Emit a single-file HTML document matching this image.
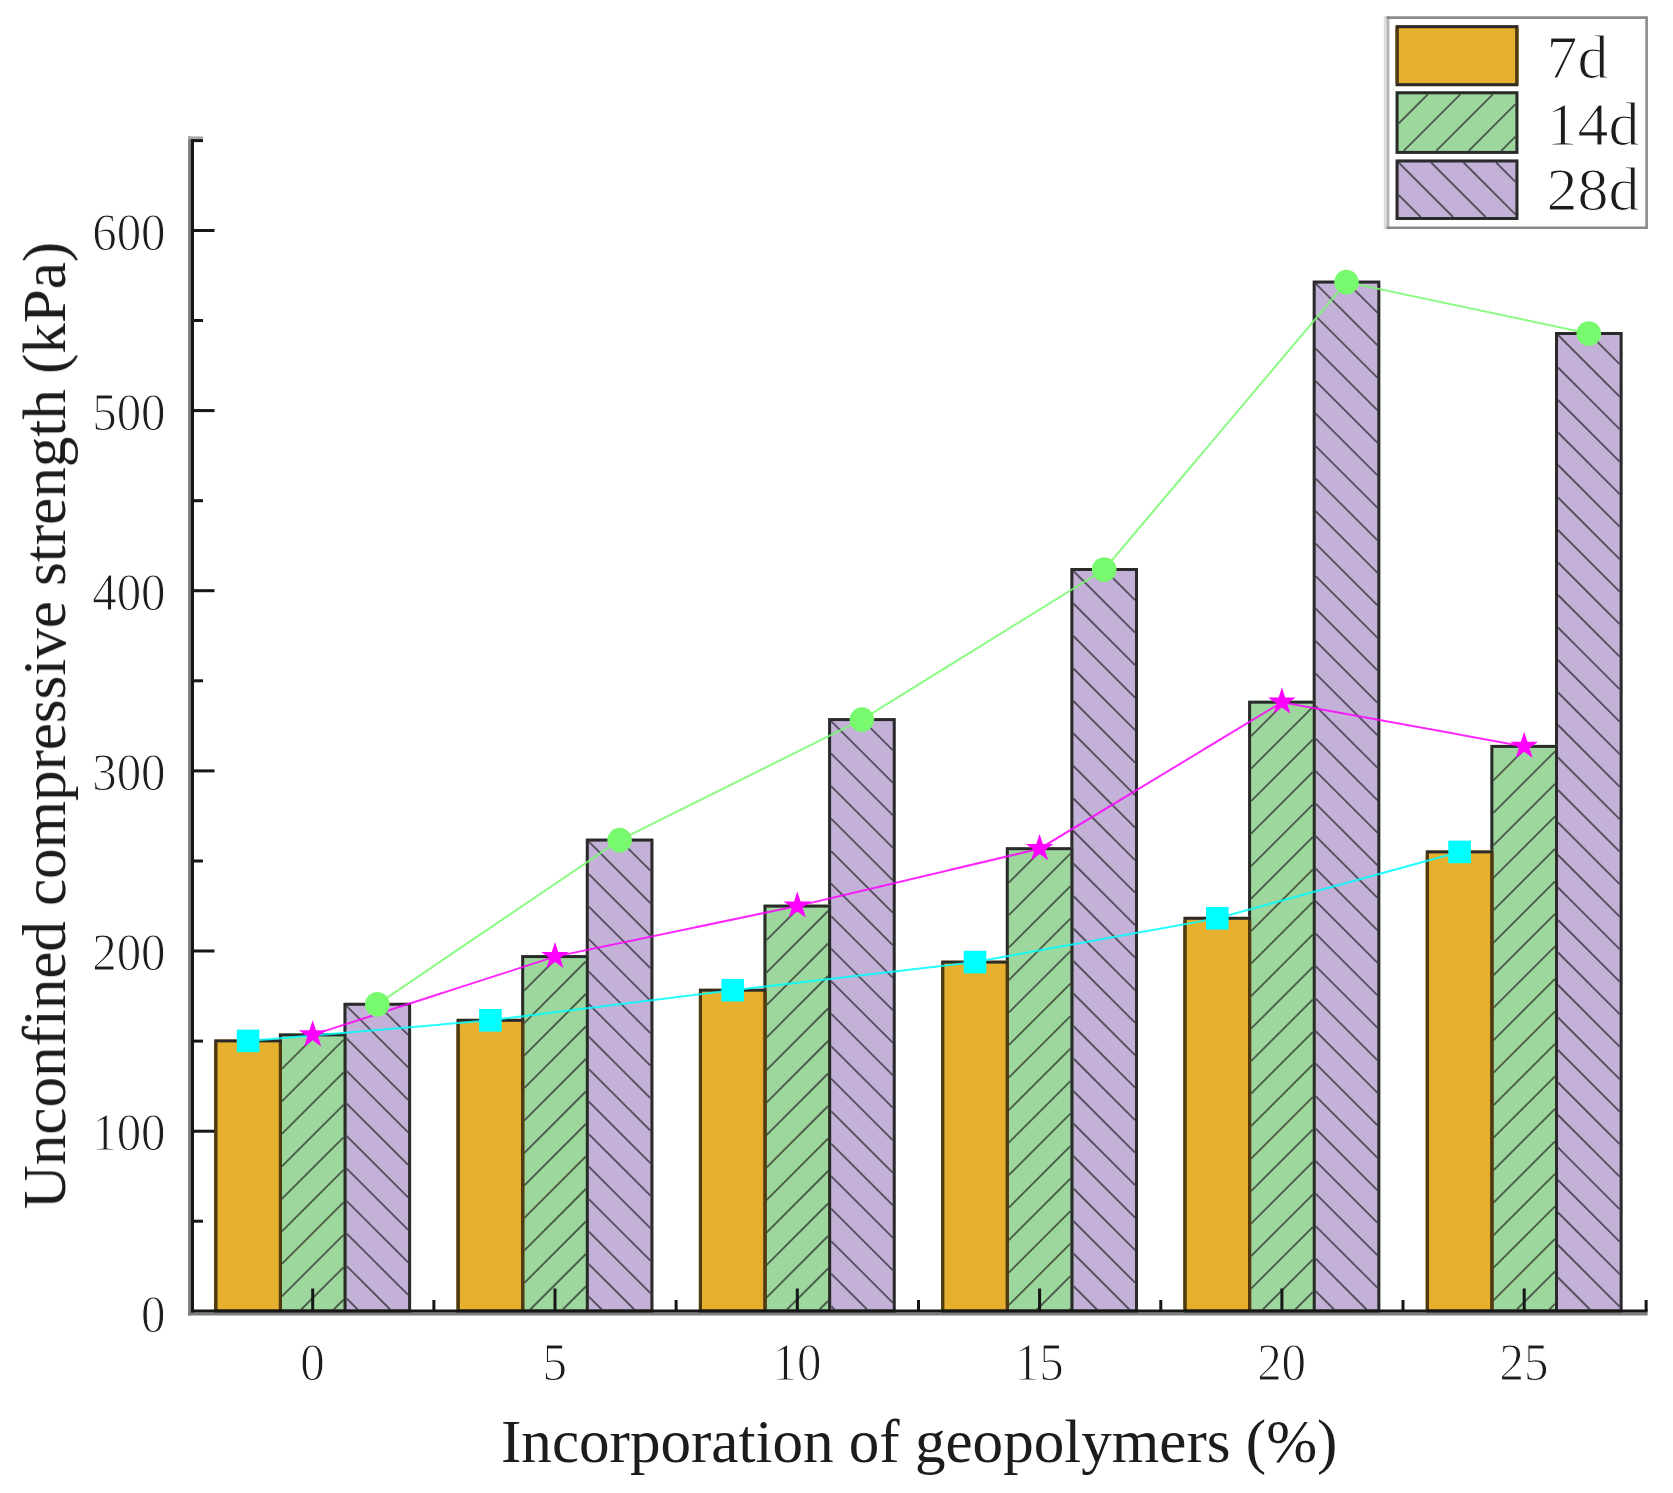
<!DOCTYPE html>
<html lang="en"><head><meta charset="utf-8"><title>Unconfined compressive strength</title>
<style>html,body{margin:0;padding:0;background:#fff}body{width:1673px;height:1493px;overflow:hidden}svg{display:block}text{font-family:"Liberation Serif",serif;fill:#1a1a1a;font-variant-ligatures:none;font-kerning:none}</style></head><body>
<svg width="1673" height="1493" viewBox="0 0 1673 1493">
<defs><filter id="soft" x="-2%" y="-2%" width="104%" height="104%"><feGaussianBlur stdDeviation="0.7"/></filter></defs>
<rect width="1673" height="1493" fill="#fff"/>
<g filter="url(#soft)">
<g id="bars">
<rect x="343.5" y="1002.8" width="67.6" height="309.8" fill="#C3B1D7"/>
<g stroke="#1e1e1e" stroke-opacity="0.66" stroke-width="1.9" fill="none"><path d="M346.5,1298.3 L357.8,1309.5"/><path d="M346.5,1265.8 L390.2,1309.5"/><path d="M346.5,1233.3 L408.1,1294.9"/><path d="M346.5,1200.8 L408.1,1262.4"/><path d="M346.5,1168.3 L408.1,1229.9"/><path d="M346.5,1135.8 L408.1,1197.4"/><path d="M346.5,1103.3 L408.1,1164.9"/><path d="M346.5,1070.8 L408.1,1132.4"/><path d="M346.5,1038.3 L408.1,1099.9"/><path d="M346.5,1005.8 L408.1,1067.4"/><path d="M379.0,1005.8 L408.1,1034.9"/></g>
<rect x="345.00" y="1004.30" width="64.60" height="306.75" fill="none" stroke="#2b2b2b" stroke-width="3.0"/>
<rect x="278.9" y="1033.4" width="67.6" height="279.2" fill="#9DD79D"/>
<g stroke="#1e1e1e" stroke-opacity="0.66" stroke-width="1.9" fill="none"><path d="M281.9,1068.9 L314.4,1036.4"/><path d="M281.9,1101.4 L343.5,1039.8"/><path d="M281.9,1133.9 L343.5,1072.3"/><path d="M281.9,1166.4 L343.5,1104.8"/><path d="M281.9,1198.9 L343.5,1137.3"/><path d="M281.9,1231.4 L343.5,1169.8"/><path d="M281.9,1263.9 L343.5,1202.3"/><path d="M281.9,1296.4 L343.5,1234.8"/><path d="M301.2,1309.5 L343.5,1267.3"/><path d="M333.7,1309.5 L343.5,1299.8"/></g>
<rect x="280.40" y="1034.90" width="64.60" height="276.15" fill="none" stroke="#2b2b2b" stroke-width="3.0"/>
<rect x="214.3" y="1039.4" width="67.6" height="273.2" fill="#E6AF2E"/>
<rect x="215.80" y="1040.90" width="64.60" height="270.15" fill="none" stroke="#2b2b2b" stroke-width="3.0"/>
<path d="M215.80,1042.40 V1309.55 M280.40,1042.40 V1309.55" fill="none" stroke="#503a0e" stroke-width="3.0"/>
<rect x="585.8" y="838.6" width="67.6" height="474.0" fill="#C3B1D7"/>
<g stroke="#1e1e1e" stroke-opacity="0.66" stroke-width="1.9" fill="none"><path d="M588.8,1296.6 L601.8,1309.5"/><path d="M588.8,1264.1 L634.3,1309.5"/><path d="M588.8,1231.6 L650.4,1293.2"/><path d="M588.8,1199.1 L650.4,1260.7"/><path d="M588.8,1166.6 L650.4,1228.2"/><path d="M588.8,1134.1 L650.4,1195.7"/><path d="M588.8,1101.6 L650.4,1163.2"/><path d="M588.8,1069.1 L650.4,1130.7"/><path d="M588.8,1036.6 L650.4,1098.2"/><path d="M588.8,1004.1 L650.4,1065.7"/><path d="M588.8,971.6 L650.4,1033.2"/><path d="M588.8,939.1 L650.4,1000.7"/><path d="M588.8,906.6 L650.4,968.2"/><path d="M588.8,874.1 L650.4,935.7"/><path d="M588.8,841.6 L650.4,903.2"/><path d="M621.3,841.6 L650.4,870.7"/></g>
<rect x="587.30" y="840.10" width="64.60" height="470.95" fill="none" stroke="#2b2b2b" stroke-width="3.0"/>
<rect x="521.2" y="955.1" width="67.6" height="357.5" fill="#9DD79D"/>
<g stroke="#1e1e1e" stroke-opacity="0.66" stroke-width="1.9" fill="none"><path d="M524.2,990.6 L556.7,958.1"/><path d="M524.2,1023.1 L585.8,961.5"/><path d="M524.2,1055.6 L585.8,994.0"/><path d="M524.2,1088.1 L585.8,1026.5"/><path d="M524.2,1120.6 L585.8,1059.0"/><path d="M524.2,1153.1 L585.8,1091.5"/><path d="M524.2,1185.6 L585.8,1124.0"/><path d="M524.2,1218.1 L585.8,1156.5"/><path d="M524.2,1250.6 L585.8,1189.0"/><path d="M524.2,1283.1 L585.8,1221.5"/><path d="M530.2,1309.5 L585.8,1254.0"/><path d="M562.8,1309.5 L585.8,1286.5"/></g>
<rect x="522.70" y="956.60" width="64.60" height="354.45" fill="none" stroke="#2b2b2b" stroke-width="3.0"/>
<rect x="456.6" y="1018.8" width="67.6" height="293.8" fill="#E6AF2E"/>
<rect x="458.10" y="1020.30" width="64.60" height="290.75" fill="none" stroke="#2b2b2b" stroke-width="3.0"/>
<path d="M458.10,1021.80 V1309.55 M522.70,1021.80 V1309.55" fill="none" stroke="#503a0e" stroke-width="3.0"/>
<rect x="828.1" y="718.1" width="67.6" height="594.5" fill="#C3B1D7"/>
<g stroke="#1e1e1e" stroke-opacity="0.66" stroke-width="1.9" fill="none"><path d="M831.1,1306.1 L834.6,1309.5"/><path d="M831.1,1273.6 L867.1,1309.5"/><path d="M831.1,1241.1 L892.7,1302.7"/><path d="M831.1,1208.6 L892.7,1270.2"/><path d="M831.1,1176.1 L892.7,1237.7"/><path d="M831.1,1143.6 L892.7,1205.2"/><path d="M831.1,1111.1 L892.7,1172.7"/><path d="M831.1,1078.6 L892.7,1140.2"/><path d="M831.1,1046.1 L892.7,1107.7"/><path d="M831.1,1013.6 L892.7,1075.2"/><path d="M831.1,981.1 L892.7,1042.7"/><path d="M831.1,948.6 L892.7,1010.2"/><path d="M831.1,916.1 L892.7,977.7"/><path d="M831.1,883.6 L892.7,945.2"/><path d="M831.1,851.1 L892.7,912.7"/><path d="M831.1,818.6 L892.7,880.2"/><path d="M831.1,786.1 L892.7,847.7"/><path d="M831.1,753.6 L892.7,815.2"/><path d="M831.1,721.1 L892.7,782.7"/><path d="M863.6,721.1 L892.7,750.2"/></g>
<rect x="829.60" y="719.60" width="64.60" height="591.45" fill="none" stroke="#2b2b2b" stroke-width="3.0"/>
<rect x="763.5" y="904.6" width="67.6" height="408.0" fill="#9DD79D"/>
<g stroke="#1e1e1e" stroke-opacity="0.66" stroke-width="1.9" fill="none"><path d="M766.5,940.1 L799.0,907.6"/><path d="M766.5,972.6 L828.1,911.0"/><path d="M766.5,1005.1 L828.1,943.5"/><path d="M766.5,1037.6 L828.1,976.0"/><path d="M766.5,1070.1 L828.1,1008.5"/><path d="M766.5,1102.6 L828.1,1041.0"/><path d="M766.5,1135.1 L828.1,1073.5"/><path d="M766.5,1167.6 L828.1,1106.0"/><path d="M766.5,1200.1 L828.1,1138.5"/><path d="M766.5,1232.6 L828.1,1171.0"/><path d="M766.5,1265.1 L828.1,1203.5"/><path d="M766.5,1297.6 L828.1,1236.0"/><path d="M787.0,1309.5 L828.1,1268.5"/><path d="M819.5,1309.5 L828.1,1301.0"/></g>
<rect x="765.00" y="906.10" width="64.60" height="404.95" fill="none" stroke="#2b2b2b" stroke-width="3.0"/>
<rect x="698.9" y="988.7" width="67.6" height="323.9" fill="#E6AF2E"/>
<rect x="700.40" y="990.20" width="64.60" height="320.85" fill="none" stroke="#2b2b2b" stroke-width="3.0"/>
<path d="M700.40,991.70 V1309.55 M765.00,991.70 V1309.55" fill="none" stroke="#503a0e" stroke-width="3.0"/>
<rect x="1070.4" y="568.0" width="67.6" height="744.5" fill="#C3B1D7"/>
<g stroke="#1e1e1e" stroke-opacity="0.66" stroke-width="1.9" fill="none"><path d="M1073.4,1286.0 L1096.9,1309.5"/><path d="M1073.4,1253.5 L1129.4,1309.5"/><path d="M1073.4,1221.0 L1135.0,1282.6"/><path d="M1073.4,1188.5 L1135.0,1250.1"/><path d="M1073.4,1156.0 L1135.0,1217.6"/><path d="M1073.4,1123.5 L1135.0,1185.1"/><path d="M1073.4,1091.0 L1135.0,1152.6"/><path d="M1073.4,1058.5 L1135.0,1120.1"/><path d="M1073.4,1026.0 L1135.0,1087.6"/><path d="M1073.4,993.5 L1135.0,1055.1"/><path d="M1073.4,961.0 L1135.0,1022.6"/><path d="M1073.4,928.5 L1135.0,990.1"/><path d="M1073.4,896.0 L1135.0,957.6"/><path d="M1073.4,863.5 L1135.0,925.1"/><path d="M1073.4,831.0 L1135.0,892.6"/><path d="M1073.4,798.5 L1135.0,860.1"/><path d="M1073.4,766.0 L1135.0,827.6"/><path d="M1073.4,733.5 L1135.0,795.1"/><path d="M1073.4,701.0 L1135.0,762.6"/><path d="M1073.4,668.5 L1135.0,730.1"/><path d="M1073.4,636.0 L1135.0,697.6"/><path d="M1073.4,603.5 L1135.0,665.1"/><path d="M1073.4,571.0 L1135.0,632.6"/><path d="M1105.9,571.0 L1135.0,600.1"/></g>
<rect x="1071.90" y="569.50" width="64.60" height="741.55" fill="none" stroke="#2b2b2b" stroke-width="3.0"/>
<rect x="1005.8" y="847.2" width="67.6" height="465.4" fill="#9DD79D"/>
<g stroke="#1e1e1e" stroke-opacity="0.66" stroke-width="1.9" fill="none"><path d="M1008.8,882.7 L1041.3,850.2"/><path d="M1008.8,915.2 L1070.4,853.6"/><path d="M1008.8,947.7 L1070.4,886.1"/><path d="M1008.8,980.2 L1070.4,918.6"/><path d="M1008.8,1012.7 L1070.4,951.1"/><path d="M1008.8,1045.2 L1070.4,983.6"/><path d="M1008.8,1077.7 L1070.4,1016.1"/><path d="M1008.8,1110.2 L1070.4,1048.6"/><path d="M1008.8,1142.7 L1070.4,1081.1"/><path d="M1008.8,1175.2 L1070.4,1113.6"/><path d="M1008.8,1207.7 L1070.4,1146.1"/><path d="M1008.8,1240.2 L1070.4,1178.6"/><path d="M1008.8,1272.7 L1070.4,1211.1"/><path d="M1008.8,1305.2 L1070.4,1243.6"/><path d="M1037.0,1309.5 L1070.4,1276.1"/><path d="M1069.5,1309.5 L1070.4,1308.6"/></g>
<rect x="1007.30" y="848.70" width="64.60" height="462.35" fill="none" stroke="#2b2b2b" stroke-width="3.0"/>
<rect x="941.2" y="960.6" width="67.6" height="352.0" fill="#E6AF2E"/>
<rect x="942.70" y="962.10" width="64.60" height="348.95" fill="none" stroke="#2b2b2b" stroke-width="3.0"/>
<path d="M942.70,963.60 V1309.55 M1007.30,963.60 V1309.55" fill="none" stroke="#503a0e" stroke-width="3.0"/>
<rect x="1312.7" y="280.6" width="67.6" height="1031.9" fill="#C3B1D7"/>
<g stroke="#1e1e1e" stroke-opacity="0.66" stroke-width="1.9" fill="none"><path d="M1315.7,1291.1 L1334.1,1309.5"/><path d="M1315.7,1258.6 L1366.6,1309.5"/><path d="M1315.7,1226.1 L1377.3,1287.7"/><path d="M1315.7,1193.6 L1377.3,1255.2"/><path d="M1315.7,1161.1 L1377.3,1222.7"/><path d="M1315.7,1128.6 L1377.3,1190.2"/><path d="M1315.7,1096.1 L1377.3,1157.7"/><path d="M1315.7,1063.6 L1377.3,1125.2"/><path d="M1315.7,1031.1 L1377.3,1092.7"/><path d="M1315.7,998.6 L1377.3,1060.2"/><path d="M1315.7,966.1 L1377.3,1027.7"/><path d="M1315.7,933.6 L1377.3,995.2"/><path d="M1315.7,901.1 L1377.3,962.7"/><path d="M1315.7,868.6 L1377.3,930.2"/><path d="M1315.7,836.1 L1377.3,897.7"/><path d="M1315.7,803.6 L1377.3,865.2"/><path d="M1315.7,771.1 L1377.3,832.7"/><path d="M1315.7,738.6 L1377.3,800.2"/><path d="M1315.7,706.1 L1377.3,767.7"/><path d="M1315.7,673.6 L1377.3,735.2"/><path d="M1315.7,641.1 L1377.3,702.7"/><path d="M1315.7,608.6 L1377.3,670.2"/><path d="M1315.7,576.1 L1377.3,637.7"/><path d="M1315.7,543.6 L1377.3,605.2"/><path d="M1315.7,511.1 L1377.3,572.7"/><path d="M1315.7,478.6 L1377.3,540.2"/><path d="M1315.7,446.1 L1377.3,507.7"/><path d="M1315.7,413.6 L1377.3,475.2"/><path d="M1315.7,381.1 L1377.3,442.7"/><path d="M1315.7,348.6 L1377.3,410.2"/><path d="M1315.7,316.1 L1377.3,377.7"/><path d="M1315.7,283.6 L1377.3,345.2"/><path d="M1348.2,283.6 L1377.3,312.7"/></g>
<rect x="1314.20" y="282.10" width="64.60" height="1028.95" fill="none" stroke="#2b2b2b" stroke-width="3.0"/>
<rect x="1248.1" y="700.7" width="67.6" height="611.9" fill="#9DD79D"/>
<g stroke="#1e1e1e" stroke-opacity="0.66" stroke-width="1.9" fill="none"><path d="M1251.1,736.2 L1283.6,703.7"/><path d="M1251.1,768.7 L1312.7,707.1"/><path d="M1251.1,801.2 L1312.7,739.6"/><path d="M1251.1,833.7 L1312.7,772.1"/><path d="M1251.1,866.2 L1312.7,804.6"/><path d="M1251.1,898.7 L1312.7,837.1"/><path d="M1251.1,931.2 L1312.7,869.6"/><path d="M1251.1,963.7 L1312.7,902.1"/><path d="M1251.1,996.2 L1312.7,934.6"/><path d="M1251.1,1028.7 L1312.7,967.1"/><path d="M1251.1,1061.2 L1312.7,999.6"/><path d="M1251.1,1093.7 L1312.7,1032.1"/><path d="M1251.1,1126.2 L1312.7,1064.6"/><path d="M1251.1,1158.7 L1312.7,1097.1"/><path d="M1251.1,1191.2 L1312.7,1129.6"/><path d="M1251.1,1223.7 L1312.7,1162.1"/><path d="M1251.1,1256.2 L1312.7,1194.6"/><path d="M1251.1,1288.7 L1312.7,1227.1"/><path d="M1262.8,1309.5 L1312.7,1259.6"/><path d="M1295.3,1309.5 L1312.7,1292.1"/></g>
<rect x="1249.60" y="702.20" width="64.60" height="608.85" fill="none" stroke="#2b2b2b" stroke-width="3.0"/>
<rect x="1183.5" y="916.8" width="67.6" height="395.8" fill="#E6AF2E"/>
<rect x="1185.00" y="918.30" width="64.60" height="392.75" fill="none" stroke="#2b2b2b" stroke-width="3.0"/>
<path d="M1185.00,919.80 V1309.55 M1249.60,919.80 V1309.55" fill="none" stroke="#503a0e" stroke-width="3.0"/>
<rect x="1555.0" y="332.0" width="67.6" height="980.5" fill="#C3B1D7"/>
<g stroke="#1e1e1e" stroke-opacity="0.66" stroke-width="1.9" fill="none"><path d="M1558.0,1277.5 L1590.0,1309.5"/><path d="M1558.0,1245.0 L1619.6,1306.6"/><path d="M1558.0,1212.5 L1619.6,1274.1"/><path d="M1558.0,1180.0 L1619.6,1241.6"/><path d="M1558.0,1147.5 L1619.6,1209.1"/><path d="M1558.0,1115.0 L1619.6,1176.6"/><path d="M1558.0,1082.5 L1619.6,1144.1"/><path d="M1558.0,1050.0 L1619.6,1111.6"/><path d="M1558.0,1017.5 L1619.6,1079.1"/><path d="M1558.0,985.0 L1619.6,1046.6"/><path d="M1558.0,952.5 L1619.6,1014.1"/><path d="M1558.0,920.0 L1619.6,981.6"/><path d="M1558.0,887.5 L1619.6,949.1"/><path d="M1558.0,855.0 L1619.6,916.6"/><path d="M1558.0,822.5 L1619.6,884.1"/><path d="M1558.0,790.0 L1619.6,851.6"/><path d="M1558.0,757.5 L1619.6,819.1"/><path d="M1558.0,725.0 L1619.6,786.6"/><path d="M1558.0,692.5 L1619.6,754.1"/><path d="M1558.0,660.0 L1619.6,721.6"/><path d="M1558.0,627.5 L1619.6,689.1"/><path d="M1558.0,595.0 L1619.6,656.6"/><path d="M1558.0,562.5 L1619.6,624.1"/><path d="M1558.0,530.0 L1619.6,591.6"/><path d="M1558.0,497.5 L1619.6,559.1"/><path d="M1558.0,465.0 L1619.6,526.6"/><path d="M1558.0,432.5 L1619.6,494.1"/><path d="M1558.0,400.0 L1619.6,461.6"/><path d="M1558.0,367.5 L1619.6,429.1"/><path d="M1558.0,335.0 L1619.6,396.6"/><path d="M1590.5,335.0 L1619.6,364.1"/></g>
<rect x="1556.50" y="333.50" width="64.60" height="977.55" fill="none" stroke="#2b2b2b" stroke-width="3.0"/>
<rect x="1490.4" y="744.9" width="67.6" height="567.6" fill="#9DD79D"/>
<g stroke="#1e1e1e" stroke-opacity="0.66" stroke-width="1.9" fill="none"><path d="M1493.4,780.4 L1525.9,747.9"/><path d="M1493.4,812.9 L1555.0,751.3"/><path d="M1493.4,845.4 L1555.0,783.8"/><path d="M1493.4,877.9 L1555.0,816.3"/><path d="M1493.4,910.4 L1555.0,848.8"/><path d="M1493.4,942.9 L1555.0,881.3"/><path d="M1493.4,975.4 L1555.0,913.8"/><path d="M1493.4,1007.9 L1555.0,946.3"/><path d="M1493.4,1040.4 L1555.0,978.8"/><path d="M1493.4,1072.9 L1555.0,1011.3"/><path d="M1493.4,1105.4 L1555.0,1043.8"/><path d="M1493.4,1137.9 L1555.0,1076.3"/><path d="M1493.4,1170.4 L1555.0,1108.8"/><path d="M1493.4,1202.9 L1555.0,1141.3"/><path d="M1493.4,1235.4 L1555.0,1173.8"/><path d="M1493.4,1267.9 L1555.0,1206.3"/><path d="M1493.4,1300.4 L1555.0,1238.8"/><path d="M1516.8,1309.5 L1555.0,1271.3"/><path d="M1549.3,1309.5 L1555.0,1303.8"/></g>
<rect x="1491.90" y="746.40" width="64.60" height="564.65" fill="none" stroke="#2b2b2b" stroke-width="3.0"/>
<rect x="1425.8" y="850.4" width="67.6" height="462.1" fill="#E6AF2E"/>
<rect x="1427.30" y="851.90" width="64.60" height="459.15" fill="none" stroke="#2b2b2b" stroke-width="3.0"/>
<path d="M1427.30,853.40 V1309.55 M1491.90,853.40 V1309.55" fill="none" stroke="#503a0e" stroke-width="3.0"/>
</g>
<g id="axes">
<g stroke="#7d7d7d" stroke-width="3" fill="none">
<path d="M189.6,136.4 V1315.6"/>
<path d="M188.1,137.8 H203" stroke="#a8a8a8" stroke-width="2.8"/>
<path d="M188.1,1314 H1647.6"/>
</g>
<g stroke="#141414" stroke-width="3" fill="none">
<path d="M192.5,139.1 V1312.5"/>
<path d="M191,1311.05 H1647.6"/>
<path d="M192,1221.2 H203.0"/>
<path d="M192,1131.2 H214.5"/>
<path d="M192,1041.1 H203.0"/>
<path d="M192,951.0 H214.5"/>
<path d="M192,861.0 H203.0"/>
<path d="M192,770.9 H214.5"/>
<path d="M192,680.8 H203.0"/>
<path d="M192,590.7 H214.5"/>
<path d="M192,500.7 H203.0"/>
<path d="M192,410.6 H214.5"/>
<path d="M192,320.5 H203.0"/>
<path d="M192,230.5 H214.5"/>
<path d="M191,140.6 H203"/>
<path d="M312.7,1311.0 V1288.5"/>
<path d="M433.9,1311.0 V1300.0"/>
<path d="M555.0,1311.0 V1288.5"/>
<path d="M676.1,1311.0 V1300.0"/>
<path d="M797.3,1311.0 V1288.5"/>
<path d="M918.5,1311.0 V1300.0"/>
<path d="M1039.6,1311.0 V1288.5"/>
<path d="M1160.8,1311.0 V1300.0"/>
<path d="M1281.9,1311.0 V1288.5"/>
<path d="M1403.0,1311.0 V1300.0"/>
<path d="M1524.2,1311.0 V1288.5"/>
<path d="M1646.1,1311.0 V1300.0"/>
</g></g>
<g id="series">
<path d="M248.1,1040.9 L490.4,1020.3 L732.7,990.2 L975.0,962.1 L1217.3,918.3 L1459.6,851.9" fill="none" stroke="#00FFFF" stroke-width="2" stroke-opacity="0.85"/>
<rect x="236.8" y="1029.6" width="22.6" height="22.6" fill="#00FFFF"/>
<rect x="479.1" y="1009.0" width="22.6" height="22.6" fill="#00FFFF"/>
<rect x="721.4" y="978.9" width="22.6" height="22.6" fill="#00FFFF"/>
<rect x="963.7" y="950.8" width="22.6" height="22.6" fill="#00FFFF"/>
<rect x="1206.0" y="907.0" width="22.6" height="22.6" fill="#00FFFF"/>
<rect x="1448.3" y="840.6" width="22.6" height="22.6" fill="#00FFFF"/>
<path d="M312.7,1034.9 L555.0,956.6 L797.3,906.1 L1039.6,848.7 L1281.9,702.2 L1524.2,746.4" fill="none" stroke="#FF00FF" stroke-width="2" stroke-opacity="0.85"/>
<polygon points="312.7,1020.2 316.0,1030.2 326.5,1030.2 318.0,1036.4 321.2,1046.4 312.7,1040.3 304.2,1046.4 307.4,1036.4 298.9,1030.2 309.4,1030.2" fill="#FF00FF"/>
<polygon points="555.0,941.9 558.3,951.9 568.8,951.9 560.3,958.1 563.5,968.1 555.0,962.0 546.5,968.1 549.7,958.1 541.2,951.9 551.7,951.9" fill="#FF00FF"/>
<polygon points="797.3,891.4 800.6,901.4 811.1,901.4 802.6,907.6 805.8,917.6 797.3,911.5 788.8,917.6 792.0,907.6 783.5,901.4 794.0,901.4" fill="#FF00FF"/>
<polygon points="1039.6,834.0 1042.9,844.0 1053.4,844.0 1044.9,850.2 1048.1,860.2 1039.6,854.1 1031.1,860.2 1034.3,850.2 1025.8,844.0 1036.3,844.0" fill="#FF00FF"/>
<polygon points="1281.9,687.5 1285.2,697.5 1295.7,697.5 1287.2,703.7 1290.4,713.7 1281.9,707.6 1273.4,713.7 1276.6,703.7 1268.1,697.5 1278.6,697.5" fill="#FF00FF"/>
<polygon points="1524.2,731.7 1527.5,741.7 1538.0,741.7 1529.5,747.9 1532.7,757.9 1524.2,751.8 1515.7,757.9 1518.9,747.9 1510.4,741.7 1520.9,741.7" fill="#FF00FF"/>
<path d="M377.3,1004.3 L619.6,840.1 L861.9,719.6 L1104.2,569.5 L1346.5,282.1 L1588.8,333.5" fill="none" stroke="#78FA6E" stroke-width="2" stroke-opacity="0.85"/>
<circle cx="377.3" cy="1004.3" r="12.3" fill="#78FA6E"/>
<circle cx="619.6" cy="840.1" r="12.3" fill="#78FA6E"/>
<circle cx="861.9" cy="719.6" r="12.3" fill="#78FA6E"/>
<circle cx="1104.2" cy="569.5" r="12.3" fill="#78FA6E"/>
<circle cx="1346.5" cy="282.1" r="12.3" fill="#78FA6E"/>
<circle cx="1588.8" cy="333.5" r="12.3" fill="#78FA6E"/>
</g>
<g id="ticklabels" font-size="51" stroke="#fff" stroke-width="1" paint-order="fill stroke">
<text transform="translate(165.6,1331.7) scale(0.96,1.05)" text-anchor="end">0</text>
<text transform="translate(165.6,1150.2) scale(0.96,1.05)" text-anchor="end">100</text>
<text transform="translate(165.6,970.0) scale(0.96,1.05)" text-anchor="end">200</text>
<text transform="translate(165.6,789.9) scale(0.96,1.05)" text-anchor="end">300</text>
<text transform="translate(165.6,609.7) scale(0.96,1.05)" text-anchor="end">400</text>
<text transform="translate(165.6,429.6) scale(0.96,1.05)" text-anchor="end">500</text>
<text transform="translate(165.6,249.5) scale(0.96,1.05)" text-anchor="end">600</text>
<text transform="translate(312.4,1379.6) scale(0.96,1.05)" text-anchor="middle">0</text>
<text transform="translate(554.7,1379.6) scale(0.96,1.05)" text-anchor="middle">5</text>
<text transform="translate(797.0,1379.6) scale(0.96,1.05)" text-anchor="middle">10</text>
<text transform="translate(1039.3,1379.6) scale(0.96,1.05)" text-anchor="middle">15</text>
<text transform="translate(1281.6,1379.6) scale(0.96,1.05)" text-anchor="middle">20</text>
<text transform="translate(1523.9,1379.6) scale(0.96,1.05)" text-anchor="middle">25</text>
</g>
<text x="501" y="1462" font-size="61.1">Incorporation of geopolymers (%)</text>
<text transform="translate(65,1209.2) rotate(-90)" font-size="61">Unconfined compressive strength (kPa)</text>
<g id="legend">
<path d="M1385.2,16.3 V229.1" stroke="#dcdcdc" stroke-width="2.8"/>
<path d="M1388,16.3 V229.1" stroke="#b2b2b2" stroke-width="2.8"/>
<path d="M1386.6,17.6 H1646.6 V227.8 H1386.6" fill="none" stroke="#8a8a8a" stroke-width="2.6"/>
<rect x="1395.6" y="25.2" width="122.8" height="61.0" fill="#E6AF2E"/>
<rect x="1397.10" y="26.70" width="119.80" height="58.00" fill="none" stroke="#2b2b2b" stroke-width="3.0"/>
<path d="M1397.10,28.20 V83.20 M1516.90,28.20 V83.20" fill="none" stroke="#503a0e" stroke-width="3.0"/>
<text x="1546.5" y="77.9" font-size="62" stroke="#fff" stroke-width="1.2" paint-order="fill stroke">7d</text>
<rect x="1395.6" y="91.3" width="122.8" height="62.6" fill="#9DD79D"/>
<g stroke="#1e1e1e" stroke-opacity="0.66" stroke-width="1.9" fill="none"><path d="M1398.6,123.5 L1427.8,94.3"/><path d="M1403.7,150.9 L1460.3,94.3"/><path d="M1436.2,150.9 L1492.8,94.3"/><path d="M1468.7,150.9 L1515.4,104.2"/><path d="M1501.2,150.9 L1515.4,136.7"/></g>
<rect x="1397.10" y="92.80" width="119.80" height="59.60" fill="none" stroke="#2b2b2b" stroke-width="3.0"/>
<text x="1546.5" y="144.8" font-size="62" stroke="#fff" stroke-width="1.2" paint-order="fill stroke">14d</text>
<rect x="1395.6" y="159.5" width="122.8" height="60.5" fill="#C3B1D7"/>
<g stroke="#1e1e1e" stroke-opacity="0.66" stroke-width="1.9" fill="none"><path d="M1398.6,195.0 L1420.6,217.0"/><path d="M1398.6,162.5 L1453.1,217.0"/><path d="M1431.1,162.5 L1485.6,217.0"/><path d="M1463.6,162.5 L1515.4,214.3"/><path d="M1496.1,162.5 L1515.4,181.8"/></g>
<rect x="1397.10" y="161.00" width="119.80" height="57.50" fill="none" stroke="#2b2b2b" stroke-width="3.0"/>
<text x="1546.5" y="210.2" font-size="62" stroke="#fff" stroke-width="1.2" paint-order="fill stroke">28d</text>
</g>
</g>
</svg></body></html>
